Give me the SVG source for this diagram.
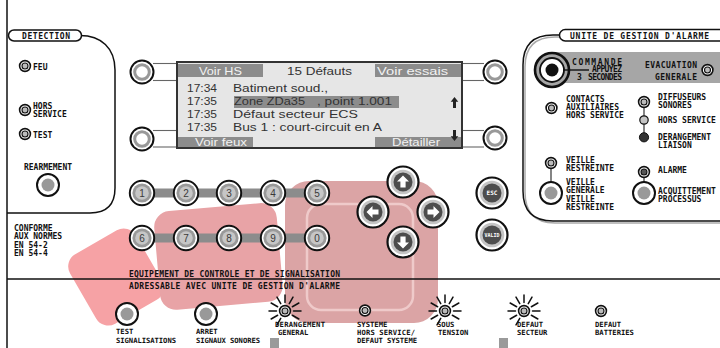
<svg xmlns="http://www.w3.org/2000/svg" xmlns:xlink="http://www.w3.org/1999/xlink" width="720" height="348" viewBox="0 0 720 348">
<style>
.lb{font-family:"DejaVu Sans Mono","Liberation Mono",monospace;font-weight:bold;font-size:8px;fill:#111}
.sm{font-size:7.2px}
.lcd{font-family:"Liberation Sans",Arial,sans-serif;font-size:11.5px;fill:#333}
.bar{fill:#8c8c8c}
.bt{fill:#f2f2f2}
.ln{fill:none;stroke:#111;stroke-width:1.5}
.cn{stroke:#666;stroke-width:1.1}
.num{font-family:"Liberation Sans",Arial,sans-serif;font-size:10px;fill:#3a3a3a;text-anchor:middle}
.ray{stroke:#111;stroke-width:1.5;stroke-linecap:round}
.vl{stroke:#333;stroke-width:1.2}
</style>
<defs>
<g id="led"><circle r="5.4" fill="#fff" stroke="#111" stroke-width="1.6"/><circle r="3" fill="#bbb" stroke="#111" stroke-width="1.1"/></g>
<g id="rays" class="ray">
<line x1="8.5" y1="0" x2="16" y2="0"/><line x1="7.36" y1="-4.25" x2="13.86" y2="-8"/><line x1="4.25" y1="-7.36" x2="8" y2="-13.86"/><line x1="0" y1="-8.5" x2="0" y2="-16"/><line x1="-4.25" y1="-7.36" x2="-8" y2="-13.86"/><line x1="-7.36" y1="-4.25" x2="-13.86" y2="-8"/><line x1="-8.5" y1="0" x2="-16" y2="0"/><line x1="-7.36" y1="4.25" x2="-13.86" y2="8"/><line x1="-4.25" y1="7.36" x2="-8" y2="13.86"/><line x1="7.36" y1="4.25" x2="13.86" y2="8"/>
</g>
<g id="pb"><circle r="11" fill="#fff" stroke="#111" stroke-width="2"/><circle r="6.5" fill="#999"/></g>
<g id="sb"><circle r="11.5" fill="#fff" stroke="#111" stroke-width="2"/><circle r="7.3" fill="#fff" stroke="#999" stroke-width="3"/></g>
<g id="kb"><circle r="12.2" fill="#fff" stroke="#111" stroke-width="2"/><circle r="9.6" fill="#999"/><circle r="6.8" fill="#c6c6c6"/></g>
<g id="ab"><circle r="15.5" fill="#fff" stroke="#111" stroke-width="2.2"/><circle r="12.3" fill="#c4c4c4"/><circle r="9.5" fill="#4d4d4d"/></g>
<polygon id="arr" points="0,-6.5 6,-0.5 2.6,-0.5 2.6,5.5 -2.6,5.5 -2.6,-0.5 -6,-0.5" fill="#fff"/>
</defs>

<g id="background">
<rect x="78" y="237" width="76" height="80" rx="14" fill="#f6a2a5" transform="rotate(-30 116 277)"/>
<rect x="157" y="207" width="123" height="99" rx="16" fill="#e8a3a6" transform="rotate(-5 218 257)"/>
<rect x="285" y="181" width="153" height="142" rx="24" fill="#dba4a5"/>
<rect x="307" y="204" width="106" height="106" rx="14" fill="none" stroke="#efcaca" stroke-width="2.5"/>
<rect x="270" y="338" width="9" height="10" fill="#9a9a9a"/>
<rect x="499" y="338" width="9" height="10" fill="#9a9a9a"/>
</g>

<g id="connectors">
<line class="ln" x1="7" y1="0" x2="7" y2="348"/>
<line class="ln" x1="7" y1="279" x2="720" y2="279"/>
<path class="ln" d="M80,35.5 C101,35.5 115,48 115,70 L115,188 Q115,213 90,213 L7,213"/>
<path d="M560,37 L555,37 Q525,37 525,67 L525,192 Q525,223 555,223 L720,223" fill="none" stroke="#aaa" stroke-width="1.5"/>
<path class="ln" d="M560,35 L553,35 Q523,35 523,65 L523,191 Q523,221 553,221 L720,221"/>
<g class="cn">
<line x1="153" y1="63.5" x2="177" y2="63.5"/><line x1="153" y1="80.5" x2="177" y2="80.5"/>
<line x1="153" y1="130.5" x2="177" y2="130.5"/><line x1="153" y1="147" x2="177" y2="147"/>
<line x1="462" y1="63.5" x2="484" y2="63.5"/><line x1="462" y1="80.5" x2="484" y2="80.5"/>
<line x1="462" y1="130.5" x2="484" y2="130.5"/><line x1="462" y1="147" x2="484" y2="147"/>
</g>
<rect x="142" y="188.5" width="175" height="9" class="bar"/>
<rect x="142" y="233.5" width="175" height="9" class="bar"/>
<line class="vl" x1="644" y1="102" x2="644" y2="137"/>
<line class="vl" x1="551" y1="163" x2="551" y2="193"/>
<line class="vl" x1="644" y1="172" x2="644" y2="193"/>
</g>

<g id="detection">
<rect x="8.5" y="30" width="73" height="11" rx="5.5" fill="#fff" stroke="#111" stroke-width="1.5"/>
<text class="lb" x="22" y="39.3" font-size="8.8" textLength="48">DETECTION</text>
<use href="#led" x="25" y="66"/><text class="lb" x="33" y="69.5">FEU</text>
<use href="#led" x="25" y="110"/><text class="lb" x="33" y="108.5">HORS</text><text class="lb" x="33" y="117">SERVICE</text>
<use href="#led" x="25" y="134"/><text class="lb" x="33" y="137.5">TEST</text>
<text class="lb" x="24" y="169.5" textLength="48">REARMEMENT</text>
<use href="#pb" x="48" y="185"/>
<text class="lb" x="14" y="231">CONFORME</text>
<text class="lb" x="14" y="239.3">AUX NORMES</text>
<text class="lb" x="14" y="247.5">EN 54-2</text>
<text class="lb" x="14" y="255.7">EN 54-4</text>
</g>

<g id="lcd">
<use href="#sb" x="142" y="72"/><use href="#sb" x="142" y="139"/>
<use href="#sb" x="495" y="72"/><use href="#sb" x="495" y="138"/>
<rect x="177" y="62" width="285" height="86" fill="#e6e6e6" stroke="#333" stroke-width="2"/>
<rect x="178" y="64" width="85" height="13" class="bar"/>
<rect x="375" y="64" width="86" height="13" class="bar"/>
<rect x="178" y="137" width="75" height="10" class="bar"/>
<rect x="375" y="137" width="86" height="10" class="bar"/>
<rect x="234" y="96" width="165" height="12" class="bar"/>
<text class="lcd bt" x="199" y="74.8" textLength="43" lengthAdjust="spacingAndGlyphs">Voir HS</text>
<text class="lcd" x="287" y="74.8" textLength="65" lengthAdjust="spacingAndGlyphs">15 Défauts</text>
<text class="lcd bt" x="377" y="74.8" textLength="71" lengthAdjust="spacingAndGlyphs">Voir essais</text>
<text class="lcd" x="187" y="92" textLength="30" lengthAdjust="spacingAndGlyphs">17:34</text>
<text class="lcd" x="233" y="92" textLength="95" lengthAdjust="spacingAndGlyphs">Batiment soud.,</text>
<text class="lcd" x="187" y="105" textLength="30" lengthAdjust="spacingAndGlyphs">17:35</text>
<text class="lcd" x="234" y="105" textLength="71" lengthAdjust="spacingAndGlyphs">Zone ZDa35</text>
<text class="lcd" x="317" y="105" textLength="75" lengthAdjust="spacingAndGlyphs">, point 1.001</text>
<text class="lcd" x="187" y="118" textLength="30" lengthAdjust="spacingAndGlyphs">17:35</text>
<text class="lcd" x="233" y="118" textLength="125" lengthAdjust="spacingAndGlyphs">Défaut secteur ECS</text>
<text class="lcd" x="187" y="131" textLength="30" lengthAdjust="spacingAndGlyphs">17:35</text>
<text class="lcd" x="233" y="131" textLength="149" lengthAdjust="spacingAndGlyphs">Bus 1 : court-circuit en A</text>
<text class="lcd bt" x="195" y="146.3" textLength="52" lengthAdjust="spacingAndGlyphs">Voir feux</text>
<text class="lcd bt" x="392" y="146.3" textLength="48" lengthAdjust="spacingAndGlyphs">Détailler</text>
<polygon points="454.5,97 458.3,101.8 456,101.8 456,108 453,108 453,101.8 450.7,101.8" fill="#222"/>
<polygon points="454.5,141 458.3,136.2 456,136.2 456,130 453,130 453,136.2 450.7,136.2" fill="#222"/>
</g>

<g id="keypad">
<g transform="translate(142 193)"><use href="#kb"/><text class="num" y="3.6">1</text></g>
<g transform="translate(186 193)"><use href="#kb"/><text class="num" y="3.6">2</text></g>
<g transform="translate(229 193)"><use href="#kb"/><text class="num" y="3.6">3</text></g>
<g transform="translate(273 193)"><use href="#kb"/><text class="num" y="3.6">4</text></g>
<g transform="translate(317 193)"><use href="#kb"/><text class="num" y="3.6">5</text></g>
<g transform="translate(142 238)"><use href="#kb"/><text class="num" y="3.6">6</text></g>
<g transform="translate(186 238)"><use href="#kb"/><text class="num" y="3.6">7</text></g>
<g transform="translate(229 238)"><use href="#kb"/><text class="num" y="3.6">8</text></g>
<g transform="translate(273 238)"><use href="#kb"/><text class="num" y="3.6">9</text></g>
<g transform="translate(317 238)"><use href="#kb"/><text class="num" y="3.6">0</text></g>
</g>

<g id="arrows">
<g transform="translate(403 182)"><use href="#ab"/><use href="#arr"/></g>
<g transform="translate(373 212)"><use href="#ab"/><use href="#arr" transform="rotate(-90)"/></g>
<g transform="translate(433 212)"><use href="#ab"/><use href="#arr" transform="rotate(90)"/></g>
<g transform="translate(403 242)"><use href="#ab"/><use href="#arr" transform="rotate(180)"/></g>
<g transform="translate(492 193)"><use href="#ab"/><text x="0" y="2.2" font-family="DejaVu Sans Mono,monospace" font-weight="bold" font-size="6" fill="#fff" text-anchor="middle">ESC</text></g>
<g transform="translate(492 235)"><use href="#ab"/><text x="0" y="2.2" font-family="DejaVu Sans Mono,monospace" font-weight="bold" font-size="5.6" fill="#fff" text-anchor="middle" textLength="15" lengthAdjust="spacingAndGlyphs">VALID</text></g>
</g>

<g id="alarm-unit">
<rect x="559.5" y="29.5" width="175" height="11.5" rx="5.75" fill="#fff" stroke="#111" stroke-width="1.5"/>
<text class="lb" x="570" y="38.5" font-size="9" textLength="139">UNITE DE GESTION D'ALARME</text>
<rect x="552" y="52" width="168" height="31" fill="#a6a6a6"/>
<circle cx="552" cy="70" r="17" fill="#a6a6a6" stroke="#111" stroke-width="2.6"/>
<circle cx="552" cy="70" r="12" fill="#fff" stroke="#111" stroke-width="1.8"/>
<circle cx="552" cy="70" r="6.5" fill="#111"/>
<line x1="563" y1="70" x2="589" y2="70" stroke="#111" stroke-width="1.4"/>
<text class="lb" x="572" y="64.5" font-size="11" textLength="50">COMMANDE</text>
<text class="lb" x="592" y="72" font-size="6.8" textLength="30">APPUYEZ</text>
<text class="lb" x="577" y="79.5" font-size="5" fill="#333">3</text>
<text class="lb" x="588" y="80" font-size="6.8" textLength="34">SECONDES</text>
<text class="lb" x="645" y="67.7" font-size="10" textLength="52">EVACUATION</text>
<text class="lb" x="655" y="79.5" font-size="10" textLength="42">GENERALE</text>
<use href="#led" x="707.5" y="70"/>
<use href="#led" x="551.5" y="108"/>
<text class="lb" x="566" y="102.3">CONTACTS</text>
<text class="lb" x="566" y="110">AUXILIAIRES</text>
<text class="lb" x="566" y="118.3">HORS SERVICE</text>
<use href="#led" x="644" y="102"/>
<text class="lb" x="658" y="100">DIFFUSEURS</text>
<text class="lb" x="658" y="108.3">SONORES</text>
<circle cx="644" cy="120" r="4.2" fill="#c4c4c4" stroke="#111" stroke-width="1.2"/>
<text class="lb" x="658" y="123.3">HORS SERVICE</text>
<circle cx="644" cy="137.3" r="4.6" fill="#333" stroke="#111" stroke-width="1"/>
<text class="lb" x="658" y="139.5">DERANGEMENT</text>
<text class="lb" x="658" y="147.5">LIAISON</text>
<use href="#led" x="551" y="163"/>
<text class="lb" x="566" y="163.3">VEILLE</text>
<text class="lb" x="566" y="171">RESTREINTE</text>
<use href="#pb" x="551" y="193"/>
<text class="lb" x="566" y="185">VEILLE</text>
<text class="lb" x="566" y="193.3">GENERALE</text>
<text class="lb" x="566" y="201.5">VEILLE</text>
<text class="lb" x="566" y="210">RESTREINTE</text>
<circle cx="644" cy="172" r="5.4" fill="#fff" stroke="#111" stroke-width="1.6"/><circle cx="644" cy="172" r="3" fill="#555" stroke="#111" stroke-width="1.1"/>
<text class="lb" x="658" y="172.7">ALARME</text>
<use href="#pb" x="644" y="193"/>
<text class="lb" x="658" y="194">ACQUITTEMENT</text>
<text class="lb" x="658" y="201.7">PROCESSUS</text>
</g>

<g id="bottom">
<text class="lb" x="129" y="277" font-size="8.3" textLength="211">EQUIPEMENT DE CONTROLE ET DE SIGNALISATION</text>
<text class="lb" x="129" y="288.5" font-size="8.3" textLength="211">ADRESSABLE AVEC UNITE DE GESTION D'ALARME</text>
<use href="#pb" x="127" y="314"/>
<text class="lb sm" x="116" y="334">TEST</text>
<text class="lb sm" x="116" y="342.7" textLength="60">SIGNALISATIONS</text>
<use href="#pb" x="206" y="314"/>
<text class="lb sm" x="196" y="334">ARRET</text>
<text class="lb sm" x="196" y="342.7" textLength="64">SIGNAUX SONORES</text>
<use href="#rays" x="285" y="311"/><use href="#led" x="285" y="311"/>
<text class="lb sm" x="275" y="326.7" textLength="50">DERANGEMENT</text>
<text class="lb sm" x="278" y="335">GENERAL</text>
<use href="#led" x="365" y="310.5"/>
<text class="lb sm" x="357" y="326.7">SYSTEME</text>
<text class="lb sm" x="357" y="335" textLength="58">HORS SERVICE/</text>
<text class="lb sm" x="357" y="343.3" textLength="60">DEFAUT SYSTEME</text>
<use href="#rays" x="445" y="311"/><use href="#led" x="445" y="311"/>
<text class="lb sm" x="437" y="326.7">SOUS</text>
<text class="lb sm" x="438" y="335">TENSION</text>
<use href="#rays" x="524" y="311"/><use href="#led" x="524" y="311"/>
<text class="lb sm" x="517" y="326.7">DEFAUT</text>
<text class="lb sm" x="517" y="335">SECTEUR</text>
<use href="#led" x="601" y="311"/>
<text class="lb sm" x="595" y="326.7">DEFAUT</text>
<text class="lb sm" x="595" y="335">BATTERIES</text>
</g>
</svg>
